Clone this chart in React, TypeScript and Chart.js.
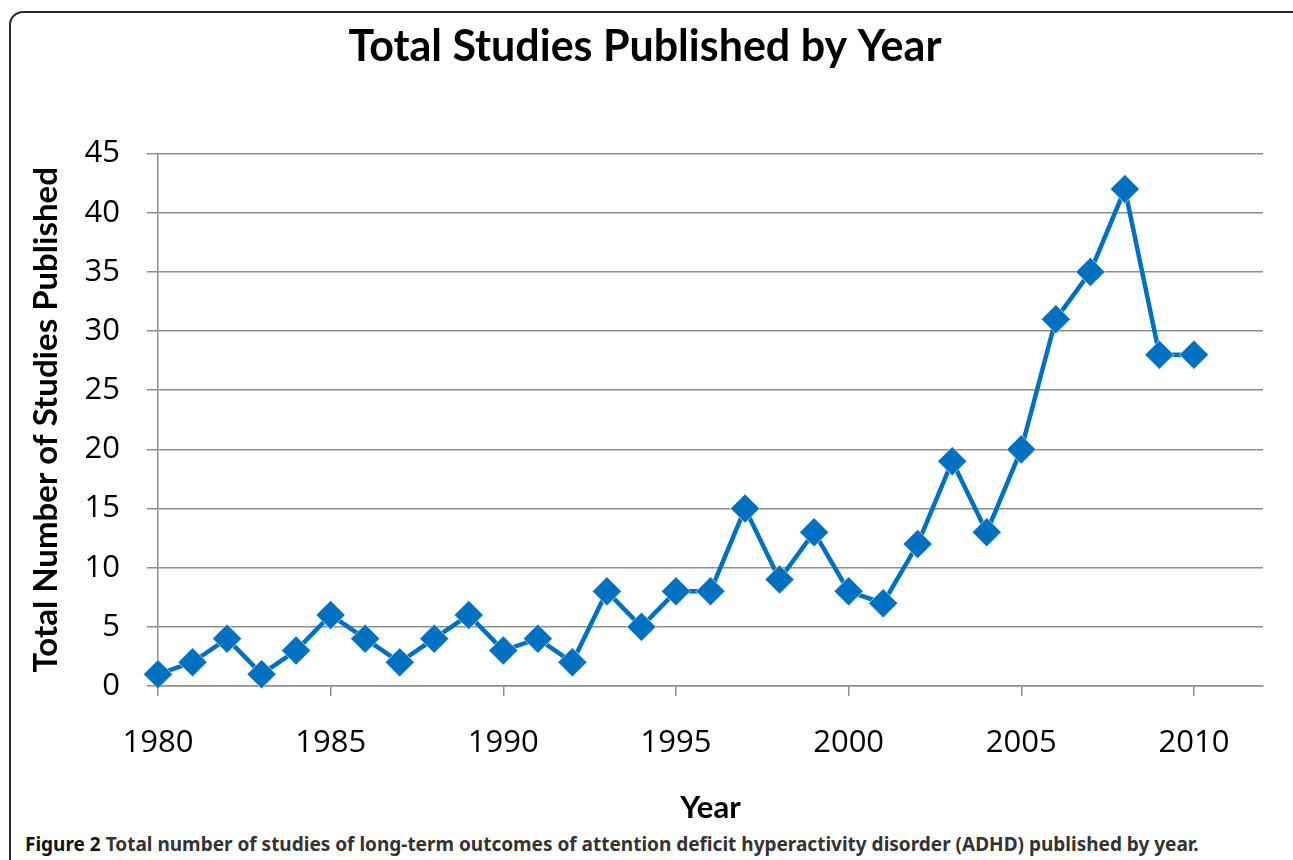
import React, { useEffect, useRef } from "react";
import { Chart, registerables } from "chart.js";

Chart.register(...registerables);

const years = [1980, 1981, 1982, 1983, 1984, 1985, 1986, 1987, 1988, 1989, 1990, 1991, 1992, 1993, 1994, 1995, 1996, 1997, 1998, 1999, 2000, 2001, 2002, 2003, 2004, 2005, 2006, 2007, 2008, 2009, 2010];
const studies = [1, 2, 4, 1, 3, 6, 4, 2, 4, 6, 3, 4, 2, 8, 5, 8, 8, 15, 9, 13, 8, 7, 12, 19, 13, 20, 31, 35, 42, 28, 28];
const xTicks = [1980, 1985, 1990, 1995, 2000, 2005, 2010];
const yTicks = [0, 5, 10, 15, 20, 25, 30, 35, 40, 45];

const chartTitle = "Total Studies Published by Year";
const xTitle = "Year";
const yTitle = "Total Number of Studies Published";

const W = 1293;
const H = 830;

export default function App() {
  const ref = useRef<HTMLCanvasElement | null>(null);

  useEffect(() => {
    if (!ref.current) return;
    const gridColor = "#8e8e8e";
    const chart = new Chart(ref.current, {
      type: "line",
      data: {
        datasets: [
          {
            data: years.map((y, i) => ({ x: y, y: studies[i] })),
            borderColor: "#0070C0",
            backgroundColor: "#0070C0",
            borderWidth: 4.5,
            tension: 0,
            pointStyle: "rectRot",
            pointRadius: 14.5,
            pointHoverRadius: 14.5,
            pointBackgroundColor: "#0070C0",
            pointBorderColor: "rgba(220,235,248,0.7)",
            pointBorderWidth: 1,
            clip: false as any,
          },
        ],
      },
      options: {
        animation: false,
        responsive: false,
        devicePixelRatio: 1,
        layout: { padding: { left: 27, right: 30, top: 0, bottom: 0 } },
        plugins: {
          legend: { display: false },
          tooltip: { enabled: false },
          title: {
            display: true,
            text: chartTitle,
            color: "#000",
            font: { family: "Lato", weight: "bold", size: 43 },
            padding: { top: 21, bottom: 81 },
          },
        },
        scales: {
          x: {
            type: "linear",
            min: 1980,
            max: 2012,
            afterBuildTicks: (scale: any) => {
              scale.ticks = xTicks.map((v) => ({ value: v }));
            },
            afterFit: (scale: any) => {
              scale.height = H - 686;
            },
            grid: {
              drawOnChartArea: false,
              drawTicks: true,
              tickLength: 10,
              color: gridColor,
              lineWidth: 1.5,
            },
            border: { display: true, color: gridColor, width: 1.5 },
            ticks: {
              color: "#000",
              font: { family: "Open Sans", size: 31 },
              padding: 29,
              maxRotation: 0,
              autoSkip: false,
              callback: (v: any) => String(v),
            },
            title: {
              display: true,
              text: xTitle,
              color: "#000",
              font: { family: "Lato", weight: "bold", size: 31 },
              padding: { top: 0, bottom: 3 },
            },
          },
          y: {
            type: "linear",
            min: 0,
            max: 45,
            afterBuildTicks: (scale: any) => {
              scale.ticks = yTicks.map((v) => ({ value: v }));
            },
            afterFit: (scale: any) => {
              scale.width = 158 - 27;
            },
            grid: {
              drawTicks: true,
              tickLength: 11,
              color: gridColor,
              lineWidth: 1.5,
            },
            border: { display: true, color: gridColor, width: 1.5 },
            ticks: {
              color: "#000",
              font: { family: "Open Sans", size: 31 },
              padding: 27,
            },
            title: {
              display: true,
              text: yTitle,
              color: "#000",
              font: { family: "Lato", weight: "bold", size: 33 },
              padding: { top: 0, bottom: 0 },
            },
          },
        },
      },
    });
    return () => chart.destroy();
  }, []);

  return (
    <div style={{ position: "fixed", left: 0, top: 0, width: W, height: 860, overflow: "hidden", background: "#fff" }}>
      <div
        style={{
          position: "absolute",
          left: 9,
          top: 11,
          width: 1300,
          height: 900,
          border: "2px solid #2a2a2a",
          borderRadius: 14,
          boxSizing: "border-box",
        }}
      />
      <canvas ref={ref} width={W} height={H} style={{ position: "absolute", left: 0, top: 0, width: W, height: H }} />
      <div
        style={{
          position: "absolute",
          left: 25,
          top: 834,
          lineHeight: "20px",
          fontFamily: "'Noto Sans', sans-serif",
          fontWeight: 700,
          fontSize: 19,
          color: "#333",
          whiteSpace: "nowrap",
        }}
      >
        <span style={{ color: "#111" }}>Figure 2</span> Total number of studies of long-term outcomes of attention deficit hyperactivity disorder (ADHD) published by year.
      </div>
    </div>
  );
}
